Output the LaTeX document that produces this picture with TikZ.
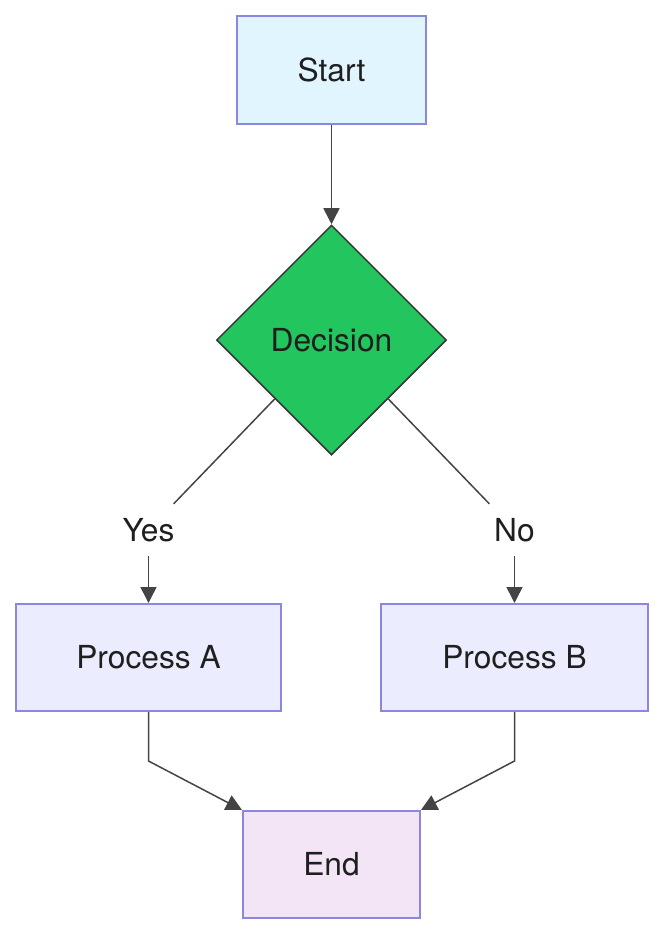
\documentclass[tikz,border=0pt]{standalone}
\usepackage{fontspec}
\setmainfont{TeX Gyre Heros}
\usetikzlibrary{shapes.geometric,arrows.meta}
\definecolor{boxborder}{HTML}{8C86E0}
\definecolor{startfill}{HTML}{E1F5FE}
\definecolor{procfill}{HTML}{ECECFF}
\definecolor{endfill}{HTML}{F3E5F5}
\definecolor{decfill}{HTML}{22C55E}
\definecolor{edgecol}{HTML}{444444}
\definecolor{txtcol}{HTML}{1F1F1F}
\begin{document}
\begin{tikzpicture}[x=1pt,y=-1pt,
  every node/.style={font=\fontsize{31.7}{36}\selectfont, text=txtcol},
  box/.style={draw=boxborder, line width=2pt, rectangle, minimum height=107pt, inner sep=0pt},
  decbox/.style={diamond, draw=edgecol!80!black, line width=1.5pt, fill=decfill, minimum width=230pt, minimum height=230pt, inner sep=0pt},
  lbl/.style={minimum width=52pt, minimum height=52pt, inner sep=0pt},
  edge/.style={draw=edgecol, line width=1.5pt},
  arr/.style={edge, -{Triangle[length=16pt,width=16pt]}}]
\useasboundingbox (0,0) rectangle (663,935);
\node[box, fill=startfill, minimum width=189pt, minimum height=108pt] (start) at (331.5,70) {Start};
\node[decbox] (dec) at (331.5,340) {Decision};
\node[lbl] (yes) at (148.5,530) {Yes};
\node[lbl] (no) at (514.5,530) {No};
\node[box, fill=procfill, minimum width=265pt] (pa) at (148.5,657.5) {Process A};
\node[box, fill=procfill, minimum width=267pt] (pb) at (514.5,657.5) {Process B};
\node[box, fill=endfill, minimum width=177pt] (end) at (331.5,864.5) {End};
\coordinate (ka) at (148.5,761);
\coordinate (kb) at (514.5,761);
\draw[arr] (start) -- (dec);
\draw[edge] (dec) -- (yes);
\draw[edge] (dec) -- (no);
\draw[arr] (yes) -- (pa);
\draw[arr] (no) -- (pb);
\draw[arr] (pa.south) -- (ka) -- (end.north west);
\draw[arr] (pb.south) -- (kb) -- (end.north east);
\end{tikzpicture}
\end{document}
